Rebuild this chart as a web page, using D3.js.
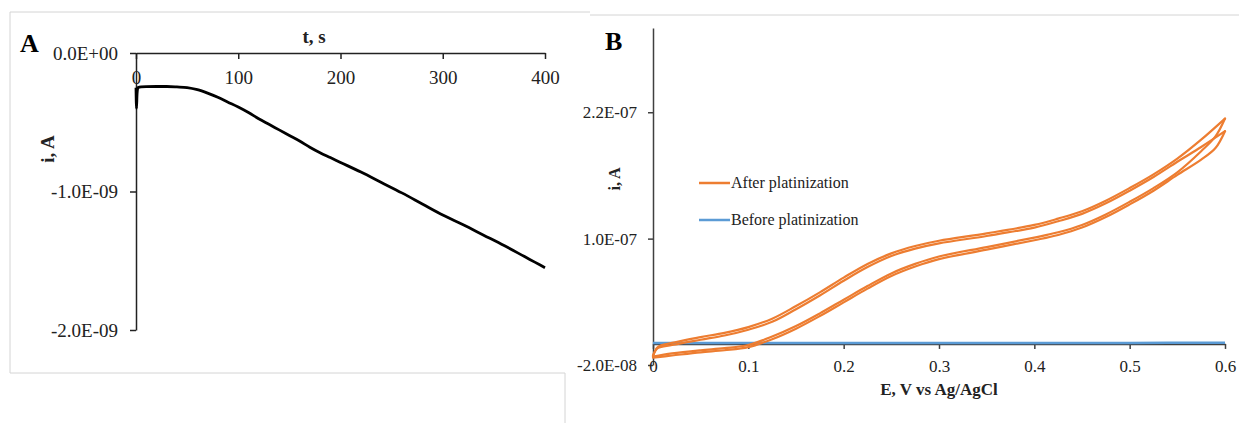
<!DOCTYPE html>
<html>
<head>
<meta charset="utf-8">
<script src="https://cdn.jsdelivr.net/npm/d3@7/dist/d3.min.js"></script>
<style>
  body { margin: 0; background: #fff; }
  svg text { font-family: "Liberation Serif", "Times New Roman", serif; }
</style>
</head>
<body>
<div id="chart"></div>
<script>
// Panel A: chronoamperometry (t in s, i in nA)
const timeA = [0, 0.5, 1, 1.5, 2, 5, 10, 20, 30, 40, 50, 60, 70, 80, 90, 100, 110, 120, 130, 140,
    150, 160, 170, 180, 190, 200, 220, 240, 260, 280, 300, 320, 340, 360, 380, 390, 400];
const currentA = [-0.25, -0.40, -0.30, -0.26, -0.25, -0.245, -0.243, -0.242, -0.242, -0.245, -0.25,
    -0.265, -0.29, -0.32, -0.355, -0.39, -0.43, -0.475, -0.515, -0.555, -0.595, -0.635, -0.68, -0.72,
    -0.755, -0.79, -0.86, -0.935, -1.01, -1.09, -1.17, -1.24, -1.315, -1.39, -1.47, -1.51, -1.55];
const ticksAx = [0, 100, 200, 300, 400];
const ticksAy = [0, -1, -2];

// Panel B: cyclic voltammograms (E in V, i in nA)
const potentialUp = [0, 0.005, 0.02, 0.05, 0.075, 0.1, 0.125, 0.15, 0.175, 0.2, 0.225, 0.25, 0.275,
    0.3, 0.35, 0.4, 0.425, 0.45, 0.475, 0.5, 0.525, 0.55, 0.575, 0.6];
const cycle1Up = [-12, -3, 1, 6.5, 10.5, 16, 24, 36, 49, 63, 76, 86, 93, 98, 105, 113, 119, 126,
    136, 148, 161, 176, 194, 214];
const cycle2Up = [-11, -4, -1, 4, 8, 13.5, 21, 33, 46, 60, 73, 83.5, 90.5, 95.5, 102.5, 110.5, 116.5,
    123.5, 133.5, 145.5, 158.5, 173, 187, 202];
const potentialDown = [0.6, 0.59, 0.575, 0.55, 0.525, 0.5, 0.475, 0.45, 0.425, 0.4, 0.35, 0.3, 0.275,
    0.25, 0.225, 0.2, 0.175, 0.15, 0.125, 0.1, 0.075, 0.05, 0.02, 0];
const cycle1Down = [214, 197, 183, 163, 148, 135, 123, 113, 106, 101, 92, 83, 76, 67, 55, 42, 29,
    17, 7, -1, -4, -6, -9, -12];
const cycle2Down = [202, 186, 175, 160.5, 145.5, 132.5, 120.5, 110.5, 103.5, 98.5, 89.5, 80.5, 73.5,
    64.5, 52.5, 39.5, 26.5, 14.5, 4.5, -3, -6, -8, -11, -13];
const potentialBare = [0, 0.1, 0.2, 0.3, 0.4, 0.5, 0.6];
const currentBare = [0.9, 0.9, 0.9, 0.9, 0.9, 1.0, 1.2];
const ticksBx = [0, 0.1, 0.2, 0.3, 0.4, 0.5, 0.6];
const ticksBy = [-20, 100, 220];
const legendNames = ['After platinization', 'Before platinization'];
const legendColors = ['#ED7D31', '#5B9BD5'];

const width = 1239;
const height = 423;

// nA -> "1.0E-09" style label
function sciLabel(nA) {
    const v = nA * 1e-9;
    if (v === 0) return '0.0E+00';
    let e = Math.floor(Math.log10(Math.abs(v)) + 1e-9);
    let m = Math.round(v / Math.pow(10, e) * 10) / 10;
    const sign = e < 0 ? '-' : '+';
    const ee = String(Math.abs(e)).padStart(2, '0');
    return m.toFixed(1) + 'E' + sign + ee;
}

function zip(xs, ys) {
    return xs.map((x, i) => [x, ys[i]]);
}

const svg = d3.select('#chart')
    .append('svg')
    .attr('width', width)
    .attr('height', height);

// frame lines of the two pasted pictures
const frame = [
    [10, 12, 590, 12], [10, 12, 10, 373], [10, 373, 565, 373],
    [590, 15, 1239, 15], [565, 373, 565, 423]
];
svg.selectAll('.frame')
    .data(frame)
    .enter()
    .append('line')
    .attr('class', 'frame')
    .attr('x1', (d) => d[0]).attr('y1', (d) => d[1])
    .attr('x2', (d) => d[2]).attr('y2', (d) => d[3])
    .attr('stroke', '#d4d4d4')
    .attr('stroke-width', 1);

// ---------- panel A ----------
const xA = d3.scaleLinear().domain([0, 400]).range([136, 545]);
const yA = d3.scaleLinear().domain([-2, 0]).range([330, 53]);

const axA = svg.append('g')
    .attr('transform', `translate(0,${yA(0)})`)
    .call(d3.axisBottom(xA).tickValues(ticksAx).tickSize(6).tickSizeOuter(0).tickPadding(12));
const ayA = svg.append('g')
    .attr('transform', `translate(${xA(0)},0)`)
    .call(d3.axisLeft(yA).tickValues(ticksAy).tickSize(6).tickSizeOuter(0).tickPadding(12).tickFormat(sciLabel));

[axA, ayA].forEach((g) => {
    g.select('.domain').attr('stroke', '#222').attr('stroke-width', 1.5);
    g.selectAll('.tick line').attr('stroke', '#222').attr('stroke-width', 1.5);
    g.selectAll('.tick text').attr('fill', '#222').style('font-size', '19px').style('font-family', '"Liberation Serif", serif');
});

svg.append('path')
    .datum(zip(timeA, currentA))
    .attr('fill', 'none')
    .attr('stroke', '#000')
    .attr('stroke-width', 2.8)
    .attr('stroke-linejoin', 'round')
    .attr('d', d3.line().x((d) => xA(d[0])).y((d) => yA(d[1])).curve(d3.curveMonotoneX));

svg.append('text')
    .attr('x', 20).attr('y', 52)
    .attr('font-weight', 'bold')
    .style('font-size', '26px')
    .text('A');
svg.append('text')
    .attr('x', 314).attr('y', 43)
    .attr('text-anchor', 'middle')
    .attr('font-weight', 'bold')
    .style('font-size', '19px')
    .attr('fill', '#222')
    .text('t, s');
svg.append('text')
    .attr('transform', 'translate(54,149) rotate(-90)')
    .attr('text-anchor', 'middle')
    .attr('font-weight', 'bold')
    .style('font-size', '19px')
    .attr('fill', '#222')
    .text('i, A');

// ---------- panel B ----------
const xB = d3.scaleLinear().domain([0, 0.6]).range([653, 1225]);
const yB = d3.scaleLinear().domain([-20, 300]).range([365, 28]);

const ayB = svg.append('g')
    .attr('transform', `translate(${xB(0)},0)`)
    .call(d3.axisLeft(yB).tickValues(ticksBy).tickSize(5).tickSizeOuter(0).tickPadding(11).tickFormat(sciLabel));
const axB = svg.append('g')
    .attr('transform', `translate(0,${yB(0)})`)
    .call(d3.axisBottom(xB).tickValues(ticksBx).tickSize(5).tickSizeOuter(0).tickPadding(11)
        .tickFormat(d3.format('.1~f')));

[axB, ayB].forEach((g) => {
    g.select('.domain').attr('stroke', '#404040').attr('stroke-width', 1.5);
    g.selectAll('.tick line').attr('stroke', '#404040').attr('stroke-width', 1.5);
    g.selectAll('.tick text').attr('fill', '#222').style('font-size', '17px').style('font-family', '"Liberation Serif", serif');
});

const lineB = d3.line()
    .x((d) => xB(d[0]))
    .y((d) => yB(d[1]))
    .curve(d3.curveCatmullRom.alpha(0.5));

svg.append('path')
    .datum(zip(potentialBare, currentBare))
    .attr('fill', 'none')
    .attr('stroke', legendColors[1])
    .attr('stroke-width', 2.5)
    .attr('d', lineB);

const branches = [
    zip(potentialUp, cycle1Up), zip(potentialDown, cycle1Down),
    zip(potentialUp, cycle2Up), zip(potentialDown, cycle2Down)
];
svg.selectAll('.cv')
    .data(branches)
    .enter()
    .append('path')
    .attr('class', 'cv')
    .attr('fill', 'none')
    .attr('stroke', legendColors[0])
    .attr('stroke-width', 2.2)
    .attr('stroke-linecap', 'round')
    .attr('stroke-linejoin', 'round')
    .attr('d', lineB);

// legend
const legend = svg.selectAll('.legend')
    .data(legendNames)
    .enter()
    .append('g')
    .attr('class', 'legend')
    .attr('transform', (d, i) => `translate(699,${183 + i * 37})`);
legend.append('line')
    .attr('x1', 0).attr('x2', 31)
    .attr('stroke', (d, i) => legendColors[i])
    .attr('stroke-width', 2.5);
legend.append('text')
    .attr('x', 32).attr('y', 5)
    .style('font-size', '16px')
    .attr('fill', '#222')
    .text((d) => d);

svg.append('text')
    .attr('x', 605).attr('y', 50)
    .attr('font-weight', 'bold')
    .style('font-size', '26px')
    .text('B');
svg.append('text')
    .attr('transform', 'translate(620,179) rotate(-90)')
    .attr('text-anchor', 'middle')
    .attr('font-weight', 'bold')
    .style('font-size', '16px')
    .attr('fill', '#222')
    .text('i, A');
svg.append('text')
    .attr('x', 939).attr('y', 395)
    .attr('text-anchor', 'middle')
    .attr('font-weight', 'bold')
    .style('font-size', '17px')
    .attr('fill', '#222')
    .text('E, V vs Ag/AgCl');
</script>
</body>
</html>
